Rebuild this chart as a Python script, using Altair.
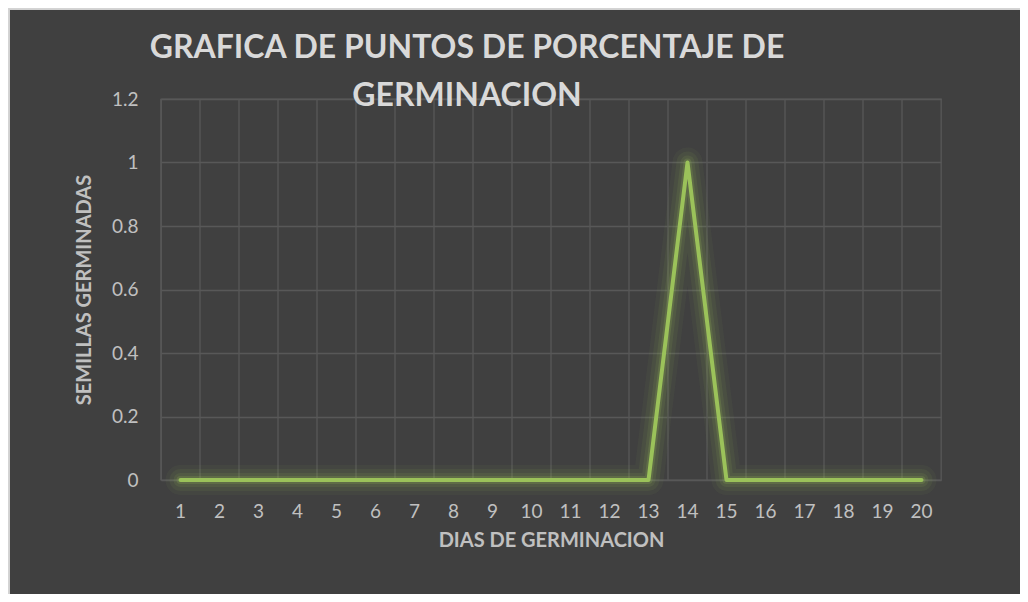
import altair as alt
import pandas as pd

# ---- data ----
dias = [1, 2, 3, 4, 5, 6, 7, 8, 9, 10, 11, 12, 13, 14, 15, 16, 17, 18, 19, 20]
semillas = [0, 0, 0, 0, 0, 0, 0, 0, 0, 0, 0, 0, 0, 1, 0, 0, 0, 0, 0, 0]
y_ticks = [0, 0.2, 0.4, 0.6, 0.8, 1, 1.2]
titulo = ["GRAFICA DE PUNTOS DE PORCENTAJE DE", "GERMINACION"]
x_title = "DIAS DE GERMINACION"
y_title = "SEMILLAS GERMINADAS"

df = pd.DataFrame({"dia": dias, "semillas": semillas})

BG = "#404040"
GRID = "#585858"
GREEN = "#9BC25A"
LABEL = "#c0c0c0"
FONT = "Lato"

xscale = alt.Scale(type="band", domain=dias, paddingInner=0, paddingOuter=0)
yscale = alt.Scale(domain=[0, 1.2], nice=False, zero=True)

xaxis = alt.Axis(
    title=x_title, labelAngle=0, grid=False, domain=False, ticks=False,
    labelFont=FONT, labelFontSize=19, labelColor=LABEL, labelPadding=22,
    titleFont=FONT, titleFontSize=20, titleFontWeight="bold", titleColor=LABEL,
    titlePadding=9,
)
yaxis = alt.Axis(
    title=y_title, values=y_ticks, format="~g", grid=True, gridColor=GRID, gridWidth=1.3,
    domain=False, ticks=False,
    labelFont=FONT, labelFontSize=19, labelColor=LABEL, labelPadding=23,
    titleFont=FONT, titleFontSize=20, titleFontWeight="bold", titleColor=LABEL,
    titlePadding=17,
)

base = alt.Chart(df)

vgrid = base.mark_rule(color=GRID, strokeWidth=1.3).encode(
    x=alt.X("dia:O", scale=xscale, bandPosition=0, axis=xaxis),
)

def line_layer(width, opacity):
    return base.mark_line(color=GREEN, strokeWidth=width, opacity=opacity,
                          strokeCap="round", strokeJoin="round").encode(
        x=alt.X("dia:O", scale=xscale, bandPosition=0.5, axis=xaxis),
        y=alt.Y("semillas:Q", scale=yscale, axis=yaxis),
    )

glow0 = line_layer(30, 0.05)
glow1 = line_layer(22, 0.07)
glow2 = line_layer(14, 0.1)
glow3 = line_layer(8, 0.18)
main = line_layer(4, 1)

border_top = alt.Chart(df).mark_rule(color="#d4d4d4", strokeWidth=1.5).encode(
    x=alt.value(-153), x2=alt.value(859), y=alt.value(-90.5)
)
border_left = alt.Chart(df).mark_rule(color="#d4d4d4", strokeWidth=1.5).encode(
    x=alt.value(-152.5), y=alt.value(-91), y2=alt.value(495)
)

chart = alt.layer(vgrid, glow0, glow1, glow2, glow3, main, border_top, border_left).properties(
    width=780,
    height=381,
    background=BG,
    padding={"left": 153, "top": 91, "right": 79, "bottom": 114},
    autosize=alt.AutoSizeParams(type="none"),
    title=alt.TitleParams(
        text=titulo, anchor="middle", dx=-84, font=FONT, fontSize=32,
        fontWeight="bold", color="#d9d9d9", lineHeight=48, offset=-106,
    ),
).configure_view(stroke=GRID, strokeWidth=1.3)

chart.save("out.html", embed_options={"renderer": "svg", "actions": False})
